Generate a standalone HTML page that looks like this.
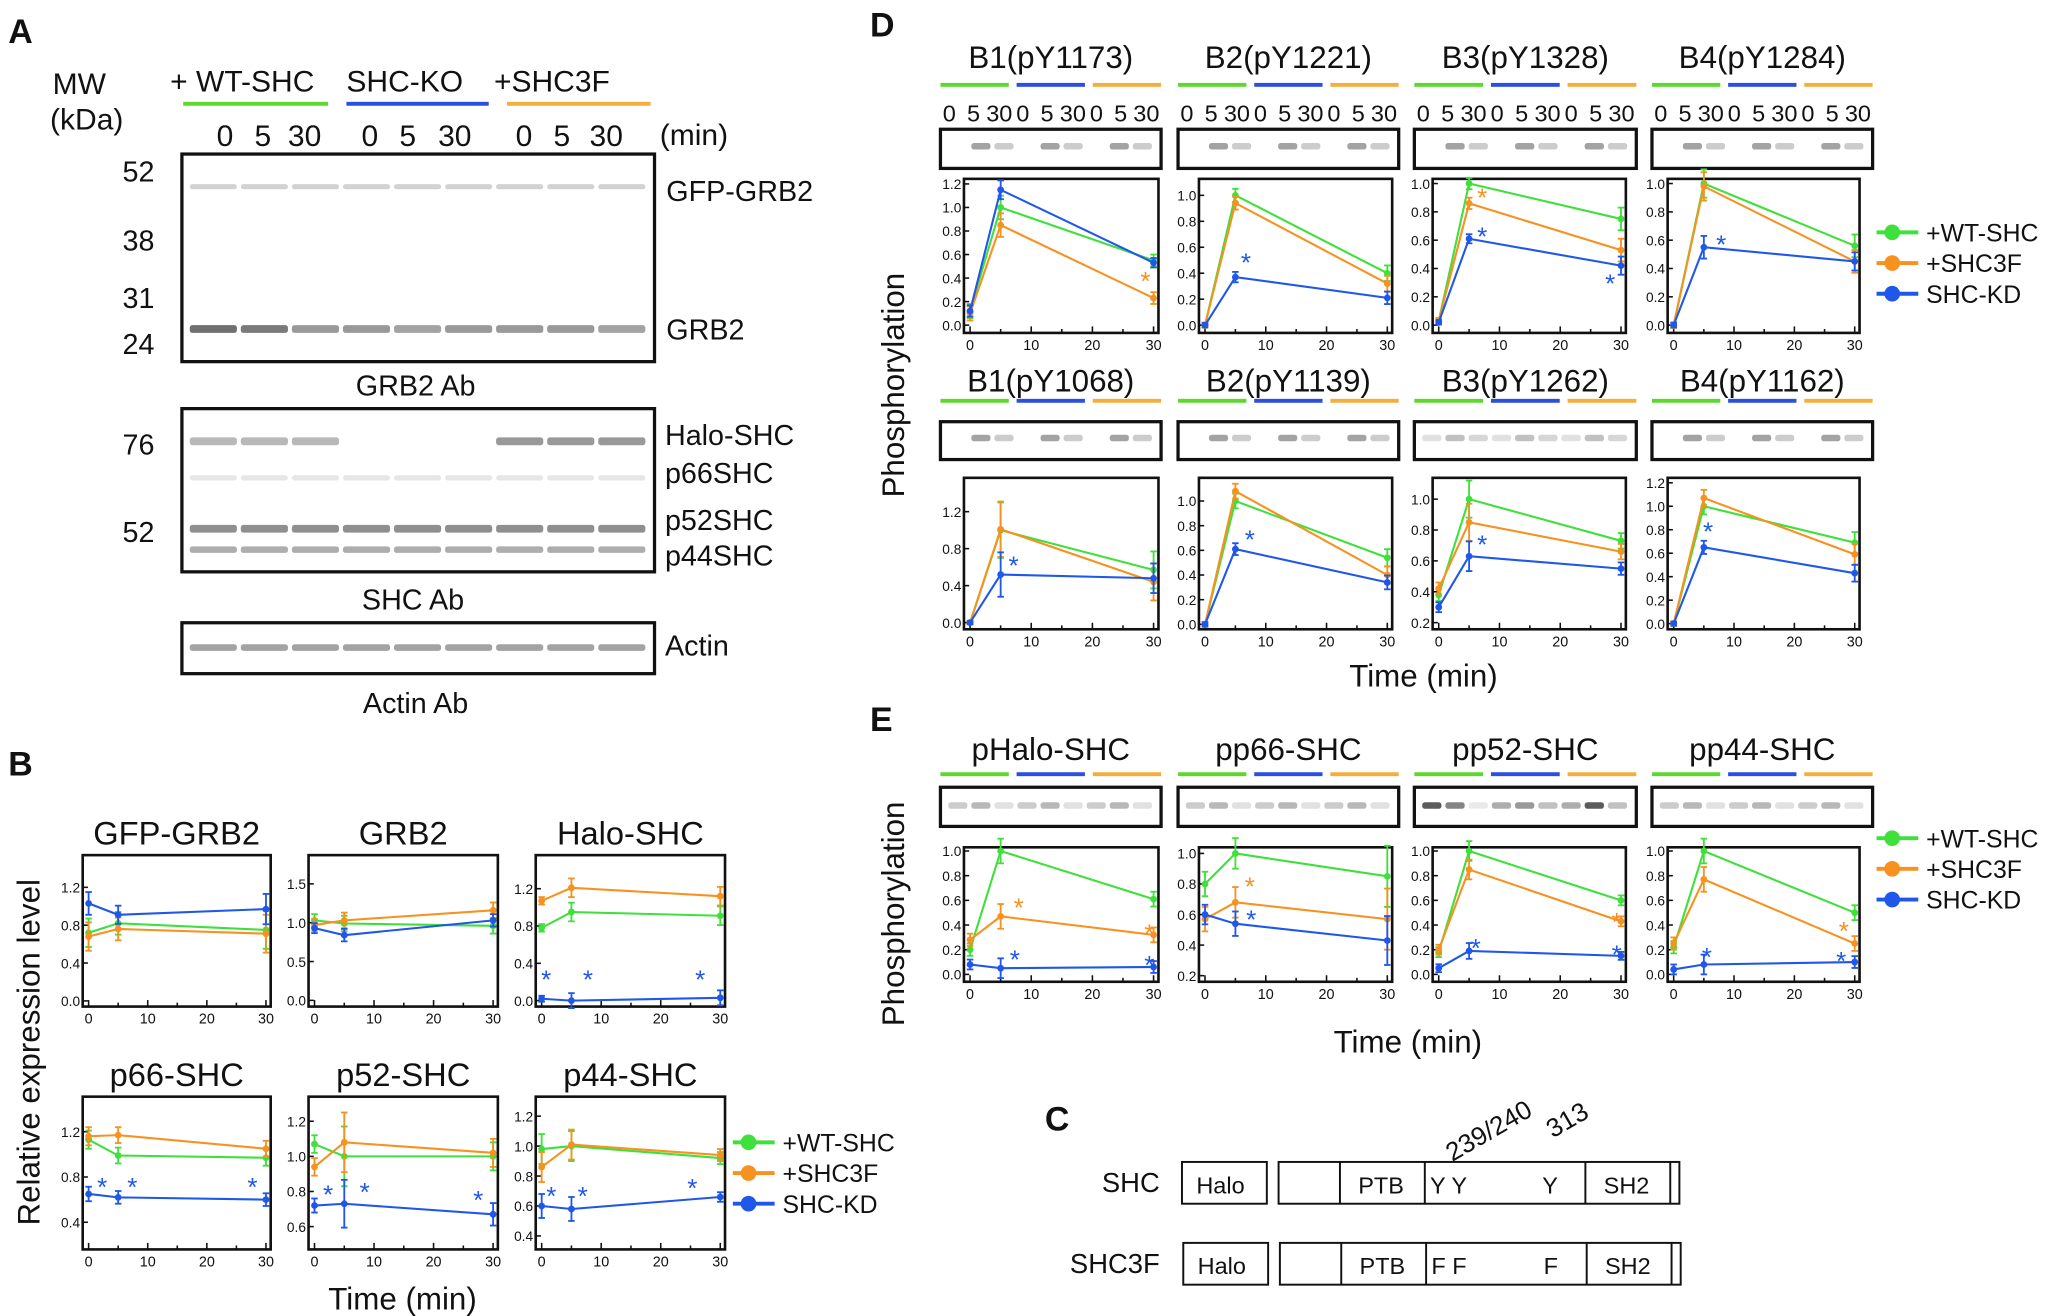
<!DOCTYPE html>
<html><head><meta charset="utf-8">
<style>
html,body{margin:0;padding:0;background:#fff;}
svg{display:block;}
text{font-family:"Liberation Sans",sans-serif;fill:#111;}
.nar{font-family:"Liberation Sans Narrow","Liberation Sans",sans-serif;}
</style></head>
<body>
<svg id="fig" xmlns="http://www.w3.org/2000/svg" width="2048" height="1316" viewBox="0 0 1568 1008">
<rect x="0" y="0" width="1568" height="1008" fill="#fff"/>
<g id="panelA">
 <text x="6" y="33" font-size="26" font-weight="bold">A</text>
 <text x="40" y="72" font-size="23">MW</text>
 <text x="38" y="99" font-size="23">(kDa)</text>
 <text x="130" y="70" font-size="23">+ WT-SHC</text>
 <text x="265" y="70" font-size="23">SHC-KO</text>
 <text x="378" y="70" font-size="23">+SHC3F</text>
 <rect x="140" y="78" width="111" height="3" fill="#5cd82e"/>
 <rect x="265" y="78" width="109" height="3" fill="#2b4fe0"/>
 <rect x="388" y="78" width="110" height="3" fill="#f5ae3e"/>
 <text x="505" y="111" font-size="23">(min)</text>
 <g id="aTimes"></g>
 <g font-size="22" text-anchor="end">
  <text x="118" y="139">52</text><text x="118" y="192">38</text><text x="118" y="236">31</text><text x="118" y="271">24</text>
  <text x="118" y="348">76</text><text x="118" y="415">52</text>
 </g>
 <g font-size="22">
  <text x="510" y="154">GFP-GRB2</text><text x="510" y="260">GRB2</text>
  <text x="509" y="341">Halo-SHC</text><text x="509" y="370">p66SHC</text>
  <text x="509" y="406">p52SHC</text><text x="509" y="433">p44SHC</text>
  <text x="509" y="502">Actin</text>
 </g>
 <g font-size="22" text-anchor="middle">
  <text x="318" y="303">GRB2 Ab</text><text x="316" y="467">SHC Ab</text><text x="318" y="546">Actin Ab</text>
 </g>
</g>
<g id="panelB">
 <text x="6" y="594" font-size="26" font-weight="bold">B</text>
 <text transform="translate(30,806) rotate(-90)" font-size="24" text-anchor="middle">Relative expression level</text>
 <text x="308" y="1003" font-size="24" text-anchor="middle" class="nar">Time (min)</text>
</g>
<g id="panelD">
 <text x="666" y="28" font-size="26" font-weight="bold">D</text>
 <text transform="translate(692,295) rotate(-90)" font-size="24" text-anchor="middle">Phosphorylation</text>
 <text x="1090" y="526" font-size="24" text-anchor="middle" class="nar">Time (min)</text>
</g>
<g id="panelE">
 <text x="666" y="560" font-size="26" font-weight="bold">E</text>
 <text transform="translate(692,700) rotate(-90)" font-size="24" text-anchor="middle">Phosphorylation</text>
 <text x="1078" y="806" font-size="24" text-anchor="middle" class="nar">Time (min)</text>
</g>
<g id="panelC">
 <text x="800" y="866" font-size="26" font-weight="bold">C</text>
 <text x="888" y="913" font-size="21" text-anchor="end">SHC</text>
 <text x="888" y="975" font-size="21" text-anchor="end">SHC3F</text>
 <text transform="translate(1112,890) rotate(-30)" font-size="20">239/240</text>
 <text transform="translate(1189,872) rotate(-30)" font-size="20">313</text>
 <g fill="none" stroke="#111" stroke-width="1.5">
  <rect x="905" y="890" width="65" height="32"/><rect x="979" y="890" width="307" height="32"/>
  <line x1="1026" y1="890" x2="1026" y2="922"/><line x1="1091" y1="890" x2="1091" y2="922"/>
  <line x1="1214" y1="890" x2="1214" y2="922"/><line x1="1279" y1="890" x2="1279" y2="922"/>
  <rect x="906" y="952" width="65" height="32"/><rect x="980" y="952" width="307" height="32"/>
  <line x1="1027" y1="952" x2="1027" y2="984"/><line x1="1092" y1="952" x2="1092" y2="984"/>
  <line x1="1215" y1="952" x2="1215" y2="984"/><line x1="1280" y1="952" x2="1280" y2="984"/>
 </g>
 <g font-size="18" class="nar">
  <text x="916" y="914">Halo</text><text x="1040" y="914">PTB</text><text x="1095" y="914">Y Y</text><text x="1181" y="914">Y</text><text x="1228" y="914">SH2</text>
  <text x="917" y="976">Halo</text><text x="1041" y="976">PTB</text><text x="1096" y="976">F F</text><text x="1182" y="976">F</text><text x="1229" y="976">SH2</text>
 </g>
</g>
<g id="plots"></g>
</svg>
<script>
// ---------- data ----------
const times = [0, 5, 30];
const seriesNames = ["+WT-SHC", "+SHC3F", "SHC-KD"];
// Panel B
const bTitles = ["GFP-GRB2", "GRB2", "Halo-SHC", "p66-SHC", "p52-SHC", "p44-SHC"];
const bWT = [[0.72,0.82,0.75],[1.03,0.99,0.96],[0.78,0.95,0.91],[1.13,0.99,0.97],[1.07,1.0,1.0],[0.98,1.0,0.92]];
const bSF = [[0.68,0.76,0.71],[0.97,1.03,1.16],[1.07,1.21,1.12],[1.16,1.17,1.05],[0.94,1.08,1.02],[0.86,1.01,0.94]];
const bKD = [[1.03,0.91,0.97],[0.93,0.84,1.03],[0.02,0.0,0.03],[0.65,0.62,0.60],[0.72,0.73,0.67],[0.60,0.58,0.66]];
const bErr = [[0.15,0.12,0.2],[0.08,0.1,0.1],[0.04,0.1,0.1],[0.08,0.07,0.07],[0.05,0.17,0.08],[0.1,0.1,0.04]];
const bYTicks = [[0,0.4,0.8,1.2],[0,0.5,1.0,1.5],[0,0.4,0.8,1.2],[0.4,0.8,1.2],[0.6,0.8,1.0,1.2],[0.4,0.6,0.8,1.0,1.2]];
const bYDom = [[-0.06,1.54],[-0.08,1.87],[-0.064,1.56],[0.16,1.51],[0.47,1.34],[0.31,1.33]];
// Panel D
const dTitles = ["B1(pY1173)","B2(pY1221)","B3(pY1328)","B4(pY1284)","B1(pY1068)","B2(pY1139)","B3(pY1262)","B4(pY1162)"];
const dWT = [[0.12,1.0,0.55],[0.0,1.0,0.40],[0.03,1.0,0.75],[0.0,1.0,0.56],[0.0,1.0,0.57],[0.0,1.0,0.54],[0.38,1.0,0.73],[0.0,1.0,0.69]];
const dSF = [[0.10,0.85,0.23],[0.0,0.94,0.32],[0.03,0.86,0.53],[0.0,0.98,0.45],[0.0,1.01,0.44],[0.0,1.08,0.40],[0.42,0.85,0.66],[0.0,1.07,0.59]];
const dKD = [[0.12,1.15,0.53],[0.0,0.37,0.21],[0.02,0.61,0.42],[0.0,0.55,0.45],[0.0,0.52,0.48],[0.0,0.61,0.34],[0.30,0.63,0.55],[0.0,0.65,0.43]];
const dErr = [[0.06,0.1,0.05],[0.02,0.05,0.06],[0.02,0.04,0.08],[0.02,0.1,0.08],[0.02,0.3,0.2],[0.02,0.06,0.07],[0.04,0.12,0.05],[0.02,0.07,0.09]];
const dYTicks = [[0,0.2,0.4,0.6,0.8,1.0,1.2],[0,0.2,0.4,0.6,0.8,1.0],[0,0.2,0.4,0.6,0.8,1.0],[0,0.2,0.4,0.6,0.8,1.0],[0,0.4,0.8,1.2],[0,0.2,0.4,0.6,0.8,1.0],[0.2,0.4,0.6,0.8,1.0],[0,0.2,0.4,0.6,0.8,1.0,1.2]];
const dYDom = [[-0.066,1.243],[-0.06,1.127],[-0.055,1.033],[-0.055,1.033],[-0.072,1.566],[-0.04,1.188],[0.157,1.138],[-0.048,1.242]];
// Panel E
const eTitles = ["pHalo-SHC","pp66-SHC","pp52-SHC","pp44-SHC"];
const eWT = [[0.2,1.0,0.61],[0.8,1.0,0.85],[0.18,1.0,0.6],[0.22,1.0,0.5]];
const eSF = [[0.28,0.47,0.32],[0.57,0.68,0.57],[0.2,0.85,0.43],[0.25,0.77,0.25]];
const eKD = [[0.08,0.05,0.06],[0.6,0.54,0.43],[0.05,0.19,0.15],[0.04,0.08,0.1]];
const eErr = [[0.05,0.1,0.06],[0.08,0.1,0.2],[0.04,0.08,0.04],[0.05,0.1,0.06]];
const eYTicks = [[0,0.2,0.4,0.6,0.8,1.0],[0.2,0.4,0.6,0.8,1.0],[0,0.2,0.4,0.6,0.8,1.0],[0,0.2,0.4,0.6,0.8,1.0]];
const eYDom = [[-0.06,1.03],[0.16,1.04],[-0.06,1.03],[-0.06,1.03]];
const xTicks = [0, 10, 20, 30];

// ---------- drawing ----------
const NS = "http://www.w3.org/2000/svg";
const COL = ["#3fe03b", "#f7911f", "#1f57ea"];
const LCOL = ["#5cd82e", "#2b4fe0", "#f5ae3e"];
const root = document.getElementById("plots");
function mk(tag, attrs, parent) {
  const e = document.createElementNS(NS, tag);
  for (const k in attrs) e.setAttribute(k, attrs[k]);
  (parent || root).appendChild(e);
  return e;
}
function txt(x, y, s, size, anchor, parent, cls) {
  const t = mk("text", {x: x, y: y, "font-size": size, "text-anchor": anchor || "start"}, parent);
  if (cls) t.setAttribute("class", cls);
  t.textContent = s;
  return t;
}
function plot(name, box, ydom, yticks, series, err) {
  const g = mk("g", {});
  
  
  const xdom = [-1.0, 30.8];
  const sx = v => box.x0 + (v - xdom[0]) / (xdom[1] - xdom[0]) * (box.x1 - box.x0);
  const sy = v => box.y1 - (v - ydom[0]) / (ydom[1] - ydom[0]) * (box.y1 - box.y0);
  mk("rect", {x: box.x0, y: box.y0, width: box.x1 - box.x0, height: box.y1 - box.y0, fill: "none", stroke: "#111", "stroke-width": 2}, g);
  for (let v = 0; v <= 30; v += 5) {
    const len = v % 10 === 0 ? 5 : 3;
    mk("line", {x1: sx(v), x2: sx(v), y1: box.y1, y2: box.y1 - len, stroke: "#111", "stroke-width": 1.2}, g);
  }
  xTicks.forEach(v => txt(sx(v), box.y1 + 13, String(v), 11, "middle", g, "nar"));
  yticks.forEach(v => {
    mk("line", {x1: box.x0, x2: box.x0 + 4, y1: sy(v), y2: sy(v), stroke: "#111", "stroke-width": 1.2}, g);
    txt(box.x0 - 2, sy(v) + 4, v.toFixed(1), 10.5, "end", g, "nar");
  });
  series.forEach((vals, si) => {
    const pts = vals.map((v, i) => sx(times[i]) + "," + sy(v)).join(" ");
    const pl = mk("polyline", {points: pts, fill: "none", stroke: COL[si], "stroke-width": 1.6}, g);
    
    
    vals.forEach((v, i) => {
      const e = err[i] * (si === 2 ? 0.8 : 1);
      const x = sx(times[i]);
      mk("line", {x1: x, x2: x, y1: sy(v - e), y2: sy(v + e), stroke: COL[si], "stroke-width": 1.4}, g);
      mk("line", {x1: x - 2.5, x2: x + 2.5, y1: sy(v + e), y2: sy(v + e), stroke: COL[si], "stroke-width": 1.4}, g);
      mk("line", {x1: x - 2.5, x2: x + 2.5, y1: sy(v - e), y2: sy(v - e), stroke: COL[si], "stroke-width": 1.4}, g);
      const c = mk("circle", {cx: x, cy: sy(v), r: 2.6, fill: COL[si]}, g);
      
      
    });
  });
  return {g: g, sx: sx, sy: sy};
}
function legend(x, y, dy) {
  const g = mk("g", {});
  
  
  seriesNames.forEach((n, i) => {
    const yy = y + i * dy;
    mk("line", {x1: x, x2: x + 32, y1: yy, y2: yy, stroke: COL[i], "stroke-width": 3}, g);
    mk("circle", {cx: x + 12, cy: yy, r: 6, fill: COL[i]}, g);
    const t = txt(x + 38, yy + 7, n, 19, "start", g, "nar");
    
    
  });
}
function star(x, y, color) { const t = txt(x, y + 8, "*", 20, "middle", root); t.setAttribute("fill", color); t.style.fill = color; }
function colorBars(x0, x1, y) {
  const w = (x1 - x0 - 12) / 3;
  [0, 1, 2].forEach(i => mk("rect", {x: x0 + i * (w + 6), y: y - 1.5, width: w, height: 3, fill: LCOL[i]}));
}
function frame(x0, y0, x1, y1) {
  const r = mk("rect", {x: x0, y: y0, width: x1 - x0, height: y1 - y0, fill: "none", stroke: "#111", "stroke-width": 2.5});
  
  
}
function bands(x0, x1, lanes, by, intens, h) {
  const w = (x1 - x0 - 10) / lanes;
  for (let i = 0; i < lanes; i++) {
    const a = intens[i % intens.length];
    if (a > 0) mk("rect", {x: x0 + 5 + i * w + 1, y: by - (h || 5) / 2, width: w - 3, height: h || 5, rx: 2, fill: "#333", opacity: a});
  }
}
function blot(x0, y0, x1, y1, lanes, by, intens) {
  bands(x0, x1, lanes, by, intens);
  frame(x0, y0, x1, y1);
}

// Panel A times + blots
const aT = document.getElementById("aTimes");
[[172,201,233],[283,312,348],[401,430,464]].forEach(r => r.forEach((x, i) => txt(x, 112, ["0","5","30"][i], 23, "middle", aT)));
bands(139,501,9,143,[0.22],4);
bands(139,501,9,252,[0.7,0.65,0.5,0.5,0.45,0.5,0.5,0.5,0.45],6);
frame(139,118,501,277);
bands(139,501,9,338,[0.35,0.35,0.35,0,0,0,0.5,0.5,0.5],6);
bands(139,501,9,366,[0.12],4);
bands(139,501,9,405,[0.55],6);
bands(139,501,9,421,[0.4],5);
frame(139,313,501,438);
bands(139,501,9,496,[0.45],5);
frame(139,477,501,516);

// Panel B plots
const bX = [[63,207],[236,381],[410,555]];
const bY = [[655,771],[840,957]];
bTitles.forEach((t, i) => {
  const c = bX[i % 3], r = bY[Math.floor(i / 3)];
  txt((c[0] + c[1]) / 2, r[0] - 8, t, 25, "middle", root, "nar");
  plot("plot-b-" + t.toLowerCase(), {x0: c[0], x1: c[1], y0: r[0], y1: r[1]}, bYDom[i], bYTicks[i], [bWT[i], bSF[i], bKD[i]], bErr[i]);
});
legend(561, 875, 23.5);
[[418,749],[450,749],[536,749],[78,908],[101,908],[193,908],[251,914],[279,912],[366,918],[422,915],[446,915],[530,909]].forEach(p => star(p[0], p[1], "#1f57ea"));

// Panel D
const dX = [[738,887],[918,1066],[1097,1245],[1277,1424]];
const bbX = [[720,889],[902,1071],[1083,1253],[1265,1434]];
const dRows = [{t:52, l:65, n:93, b:[99,129], p:[137,255]}, {t:300, l:307, n:0, b:[323,352], p:[366,482]}];
const tPos = [0.12, 0.45, 0.8];
dTitles.forEach((t, i) => {
  const c = i % 4, R = dRows[Math.floor(i / 4)];
  const bx = bbX[c];
  txt((bx[0] + bx[1]) / 2, R.t, t, 24, "middle", root, "nar");
  colorBars(bx[0], bx[1], R.l);
  if (R.n) {
    const w = (bx[1] - bx[0]) / 3;
    for (let k = 0; k < 9; k++) txt(bx[0] + w * (Math.floor(k / 3) + tPos[k % 3]), R.n, ["0","5","30"][k % 3], 18, "middle", root, "nar");
  }
  blot(bx[0], R.b[0], bx[1], R.b[1], 9, (R.b[0] + R.b[1]) / 2 - 2, i === 6 ? [0.15,0.3,0.2] : [0,0.45,0.25]);
  plot("plot-d-" + t.toLowerCase(), {x0: dX[c][0], x1: dX[c][1], y0: R.p[0], y1: R.p[1]}, dYDom[i], dYTicks[i], [dWT[i], dSF[i], dKD[i]], dErr[i]);
});
legend(1437, 178, 23.5);
star(877,214,"#f7911f"); star(954,200,"#1f57ea"); star(1135,150,"#f7911f"); star(1135,180,"#1f57ea"); star(1233,216,"#1f57ea"); star(1318,186,"#1f57ea");
star(776,432,"#1f57ea"); star(957,412,"#1f57ea"); star(1135,416,"#1f57ea"); star(1308,406,"#1f57ea");

// Panel E
eTitles.forEach((t, c) => {
  const bx = bbX[c];
  txt((bx[0] + bx[1]) / 2, 582, t, 24, "middle", root, "nar");
  colorBars(bx[0], bx[1], 593);
  blot(bx[0], 603, bx[1], 633, 9, 617, c === 2 ? [0.8,0.6,0.1,0.4,0.5,0.3,0.4,0.8,0.3] : [0.25,0.35,0.15]);
  plot("plot-e-" + t.toLowerCase(), {x0: dX[c][0], x1: dX[c][1], y0: 649, y1: 752}, eYDom[c], eYTicks[c], [eWT[c], eSF[c], eKD[c]], eErr[c]);
});
legend(1437, 642, 23.5);
star(780,694,"#f7911f"); star(777,734,"#1f57ea"); star(880,714,"#f7911f"); star(880,738,"#1f57ea");
star(957,678,"#f7911f"); star(958,703,"#1f57ea"); star(1130,725,"#1f57ea"); star(1238,705,"#f7911f"); star(1238,730,"#1f57ea");
star(1307,732,"#1f57ea"); star(1412,712,"#f7911f"); star(1410,735,"#1f57ea");
</script>
</body></html>
